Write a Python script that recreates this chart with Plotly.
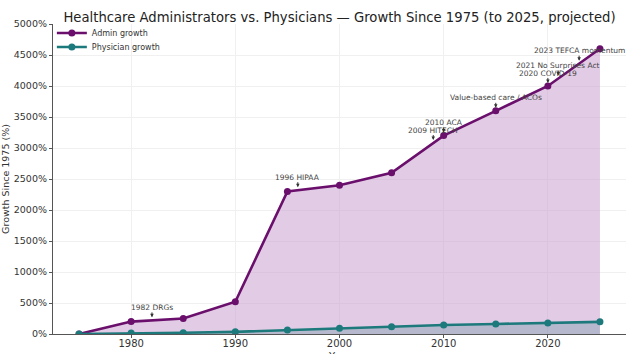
import plotly.graph_objects as go

years = [1975, 1980, 1985, 1990, 1995, 2000, 2005, 2010, 2015, 2020, 2025]
admin_growth = [0, 200, 250, 520, 2300, 2400, 2600, 3200, 3600, 4000, 4600]
physician_growth = [0, 16, 21, 35, 65, 92, 118, 145, 162, 178, 196]

event_years = [1982, 1996, 2009, 2010, 2015, 2020, 2021, 2023]
event_values = [220, 2320, 3080, 3200, 3600, 4000, 4120, 4360]
event_labels = ["1982 DRGs", "1996 HIPAA", "2009 HITECH", "2010 ACA",
                "Value-based care / ACOs", "2020 COVID-19",
                "2021 No Surprises Act", "2023 TEFCA momentum"]

y_ticks = list(range(0, 5001, 500))
y_tick_labels = [f"{v}%" for v in y_ticks]
x_ticks = [1980, 1990, 2000, 2010, 2020]

ADMIN = "#6a0f6c"
PHYS = "#1c7a7c"

fig = go.Figure()
# area fills (not in legend)
fig.add_trace(go.Scatter(
    x=years, y=admin_growth, mode="none", showlegend=False, hoverinfo="skip",
    fill="tozeroy", fillcolor="rgba(203,160,207,0.55)"))
fig.add_trace(go.Scatter(
    x=years, y=admin_growth, mode="lines+markers", name="Admin growth",
    line=dict(color=ADMIN, width=2.6), marker=dict(size=7, color=ADMIN),
    legend="legend"))
fig.add_trace(go.Scatter(
    x=years, y=physician_growth, mode="none", showlegend=False,
    hoverinfo="skip", fill="tozeroy", fillcolor="rgba(28,122,124,0.22)"))
fig.add_trace(go.Scatter(
    x=years, y=physician_growth, mode="lines+markers", name="Physician growth",
    line=dict(color=PHYS, width=2.6), marker=dict(size=7, color=PHYS),
    legend="legend2"))

for yr, val, lab in zip(event_years, event_values, event_labels):
    fig.add_annotation(
        x=yr, y=val, text=lab, showarrow=True, ax=0, ay=-13,
        arrowhead=2, arrowsize=0.7, arrowwidth=1, arrowcolor="#333333",
        standoff=3, font=dict(size=7.5, color="#444444",
                              family="DejaVu Sans"),
        borderpad=0)

# x-axis title, placed low like the reference (partly below the frame)
fig.add_annotation(text="Year", xref="paper", yref="paper", x=0.5, y=0,
                   yanchor="middle", yshift=-22, showarrow=False,
                   font=dict(size=10, color="#333333"))

leg_common = dict(xanchor="left", yanchor="middle", bgcolor="rgba(0,0,0,0)",
                  borderwidth=0, font=dict(size=8, color="#333333"),
                  itemwidth=30, xref="paper", yref="paper")
plot_h = 354 - 24 - 20

fig.update_layout(
    width=630, height=354,
    margin=dict(l=53, r=4, t=24, b=20, autoexpand=False),
    paper_bgcolor="white", plot_bgcolor="white",
    font=dict(family="DejaVu Sans", color="#333333"),
    title=dict(text="Healthcare Administrators vs. Physicians \u2014 Growth Since 1975 (to 2025, projected)",
               x=0.5, xref="paper", y=1 - 17 / 354, yref="container",
               yanchor="middle", xanchor="center",
               font=dict(size=13.2, color="#222222", family="DejaVu Sans")),
    showlegend=True,
    legend=dict(x=-0.002, y=1 - (33 - 24) / plot_h, **leg_common),
    legend2=dict(x=-0.002, y=1 - (47 - 24) / plot_h, **leg_common),
)
fig.update_xaxes(
    range=[1972.5, 2027.5], tickvals=x_ticks, ticks="outside", ticklen=3,
    tickcolor="#555555", showline=True, linecolor="#555555", linewidth=1.2,
    showgrid=True, gridcolor="#f0f0f0", gridwidth=1, zeroline=False,
    tickfont=dict(size=10, color="#333333"), ticklabelstandoff=-3,
    automargin=False)
fig.update_yaxes(
    range=[0, 5000], tickvals=y_ticks, ticktext=y_tick_labels, ticks="outside",
    ticklen=3, tickcolor="#555555", showline=True, linecolor="#555555",
    linewidth=1.2, showgrid=True, gridcolor="#f0f0f0", gridwidth=1,
    zeroline=False, tickfont=dict(size=9.5, color="#333333"),
    title=dict(text="Growth Since 1975 (%)", standoff=4,
               font=dict(size=9.5, color="#333333")),
    automargin=False)

fig.write_html("out.html")
